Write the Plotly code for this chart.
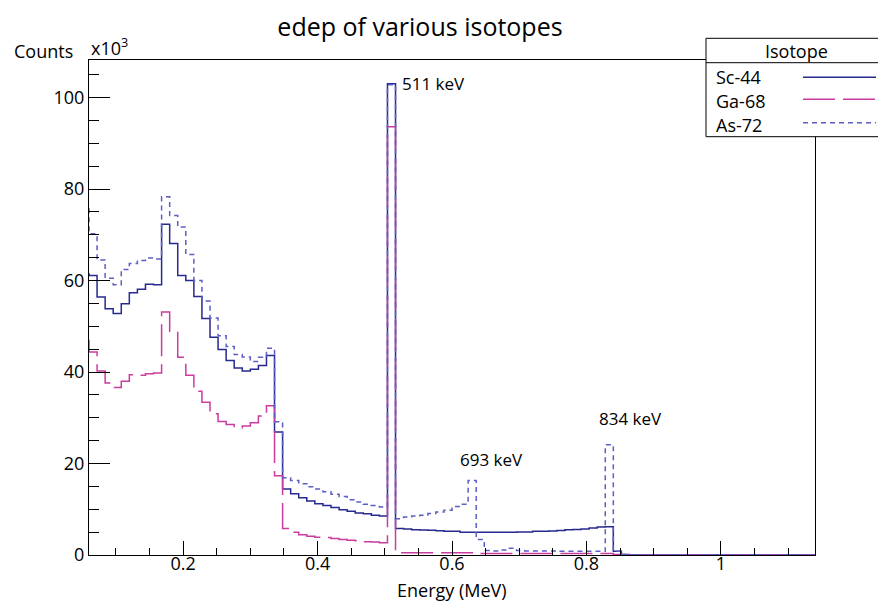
import numpy as np
import plotly.graph_objects as go

# ---------------- data (counts in units of 10^3 per bin) ----------------
bin_lo = 0.06
bin_w = 0.012
n_bins = 90

isotopes = ["Sc-44", "Ga-68", "As-72"]

# value of the bin just left of the drawn range (only its edge is visible)
sc44_prev = 61.5
ga68_prev = 46.9
as72_prev = 76.0

sc44_counts = [
    61.1, 56.4, 53.8, 52.8, 54.9, 57.3, 58.1, 59.2, 59.1, 72.3,
    68.1, 61.1, 60.0, 56.5, 51.7, 47.6, 44.9, 42.5, 40.9, 40.2,
    40.6, 41.4, 43.6, 26.9, 14.4, 13.4, 12.5, 11.8, 11.2, 10.8,
    10.4, 9.9, 9.55, 9.2, 9.0, 8.7, 8.5, 103.0, 5.8, 5.7,
    5.5, 5.45, 5.4, 5.3, 5.2, 5.2, 5.0, 5.0, 4.95, 4.95,
    5.0, 5.0, 5.0, 5.05, 5.05, 5.2, 5.2, 5.25, 5.35, 5.5,
    5.6, 5.7, 5.9, 6.1, 6.15, 0.8, 0.1, 0, 0, 0,
    0, 0, 0, 0, 0, 0, 0, 0, 0, 0,
    0, 0, 0, 0, 0, 0, 0, 0, 0, 0,
]

ga68_counts = [
    44.4, 40.2, 37.6, 36.6, 38.0, 39.4, 39.3, 39.6, 39.8, 53.1,
    48.9, 43.2, 39.3, 35.8, 33.4, 30.9, 29.2, 28.5, 27.8, 28.2,
    28.9, 30.4, 32.6, 17.3, 5.8, 5.0, 4.4, 4.1, 3.9, 3.8,
    3.6, 3.4, 3.2, 3.1, 2.9, 2.85, 2.7, 93.6, 0.5, 0.5,
    0.5, 0.5, 0.5, 0.5, 0.5, 0.5, 0.5, 0.5, 0.35, 0.35,
    0.35, 0.35, 0.35, 0.35, 0.35, 0.35, 0.35, 0.35, 0.35, 0.35,
    0.35, 0.35, 0.35, 0.35, 0.35, 0.1, 0, 0, 0, 0,
    0, 0, 0, 0, 0, 0, 0, 0, 0, 0,
    0, 0, 0, 0, 0, 0, 0, 0, 0, 0,
]

as72_counts = [
    70.2, 64.5, 60.5, 59.1, 62.4, 63.7, 64.4, 64.9, 64.7, 78.3,
    74.2, 71.7, 65.7, 60.0, 55.5, 51.8, 47.9, 45.6, 43.8, 43.3,
    42.3, 43.2, 45.2, 29.1, 16.9, 16.3, 15.6, 14.9, 14.4, 13.8,
    13.3, 12.8, 12.1, 11.6, 11.1, 10.8, 10.5, 102.8, 7.95, 8.3,
    8.5, 8.7, 9.05, 9.4, 9.8, 10.6, 11.1, 16.3, 3.4, 1.0,
    0.9, 1.1, 1.5, 1.0, 0.9, 0.9, 0.9, 0.9, 0.8, 0.8,
    0.8, 0.8, 0.8, 0.8, 24.1, 0.8, 0.1, 0, 0, 0,
    0, 0, 0, 0, 0, 0, 0, 0, 0, 0,
    0, 0, 0, 0, 0, 0, 0, 0, 0, 0,
]

peak_labels = ["511 keV", "693 keV", "834 keV"]
peak_label_x = [0.5225, 0.6095, 0.8153]
peak_label_y = [103.0, 20.9, 29.8]

x_tick_vals = [0.2, 0.4, 0.6, 0.8, 1.0]
x_tick_text = ["0.2", "0.4", "0.6", "0.8", "1"]
y_tick_vals = [0, 20, 40, 60, 80, 100]
y_tick_text = ["0", "20", "40", "60", "80", "100"]

# ---------------- styles ----------------
colors = {"Sc-44": "#26298f", "Ga-68": "#cc3b9f", "As-72": "#5a5ec6"}
dashes = {"Sc-44": "solid", "Ga-68": "32px,8px", "As-72": "5px,4px"}
FONT = "Open Sans, Noto Sans, DejaVu Sans, sans-serif"

x_min = bin_lo
x_max = bin_lo + n_bins * bin_w
edges = bin_lo + bin_w * np.arange(-1, n_bins + 1)  # includes the bin before range


def step_xy(prev, counts):
    vals = [prev] + list(counts)
    xs = list(edges[:-1]) + [edges[-1]]
    ys = vals + [vals[-1]]
    return xs, ys


fig = go.Figure()
series = {"Sc-44": (sc44_prev, sc44_counts),
          "Ga-68": (ga68_prev, ga68_counts),
          "As-72": (as72_prev, as72_counts)}
for name in ["Sc-44", "Ga-68", "As-72"]:
    prev, cnt = series[name]
    xs, ys = step_xy(prev, cnt)
    fig.add_trace(go.Scatter(
        x=xs, y=ys, mode="lines", name=name,
        line=dict(shape="hv", color=colors[name], width=1.5, dash=dashes[name]),
        showlegend=False, hoverinfo="skip",
    ))

# layout geometry (pixels)
W, H = 878, 604
ML, MR, MT, MB = 89, 63, 60, 49
PW, PH = W - ML - MR, H - MT - MB


def pxx(px):
    return (px - ML) / PW


def pxy(py):
    return (H - MB - py) / PH


fig.update_layout(
    width=W, height=H,
    margin=dict(l=ML, r=MR, t=MT, b=MB, pad=0),
    paper_bgcolor="white", plot_bgcolor="white",
    font=dict(family=FONT, size=18, color="black"),
    title=dict(text="edep of various isotopes", x=420 / W, xanchor="center",
               y=1 - 27 / H, yanchor="middle",
               font=dict(family=FONT, size=25, color="black")),
    showlegend=False,
)

fig.update_xaxes(
    range=[x_min, x_max], showgrid=False, zeroline=False,
    showline=True, linecolor="black", linewidth=1, mirror=True,
    ticks="inside", ticklen=14, tickwidth=1, tickcolor="black",
    tickvals=x_tick_vals, ticktext=x_tick_text,
    ticklabelstandoff=-8,
    minor=dict(ticks="inside", ticklen=7, tickwidth=1, tickcolor="black",
               dtick=0.05, tick0=0, showgrid=False),
    tickfont=dict(size=18, family=FONT),
)
fig.update_yaxes(
    range=[0, 108.2], showgrid=False, zeroline=False,
    showline=True, linecolor="black", linewidth=1, mirror=True,
    ticks="inside", ticklen=21, tickwidth=1, tickcolor="black",
    tickvals=y_tick_vals, ticktext=y_tick_text,
    minor=dict(ticks="inside", ticklen=10, tickwidth=1, tickcolor="black",
               dtick=5, tick0=0, showgrid=False),
    tickfont=dict(size=18, family=FONT),
)

annotations = []
# axis titles
annotations.append(dict(text="Counts", xref="paper", yref="paper",
                        x=pxx(12), y=pxy(51), xanchor="left", yanchor="middle",
                        showarrow=False, font=dict(size=18)))
annotations.append(dict(text="x10<sup>3</sup>", xref="paper", yref="paper",
                        x=pxx(89), y=pxy(47), xanchor="left", yanchor="middle",
                        showarrow=False, font=dict(size=18)))
annotations.append(dict(text="Energy (MeV)", xref="paper", yref="paper",
                        x=0.5, y=pxy(590), xanchor="center", yanchor="middle",
                        showarrow=False, font=dict(size=18)))
# peak labels
for t, xv, yv in zip(peak_labels, peak_label_x, peak_label_y):
    annotations.append(dict(text=t, x=xv, y=yv, xref="x", yref="y",
                            xanchor="left", yanchor="middle", showarrow=False,
                            font=dict(size=17)))

# legend (drawn box like ROOT TLegend)
leg_left, leg_right, leg_top, leg_bot, leg_sep = 706, 900, 38.3, 136.7, 62.7
shapes = [
    dict(type="rect", xref="paper", yref="paper", layer="above",
         x0=pxx(leg_left), x1=pxx(leg_right), y0=pxy(leg_bot), y1=pxy(leg_top),
         line=dict(color="black", width=1), fillcolor="white"),
    dict(type="line", xref="paper", yref="paper", layer="above",
         x0=pxx(leg_left), x1=pxx(leg_right), y0=pxy(leg_sep), y1=pxy(leg_sep),
         line=dict(color="black", width=1)),
]
annotations.append(dict(text="Isotope", xref="paper", yref="paper",
                        x=pxx(796.7), y=pxy(51.2), xanchor="center", yanchor="middle",
                        showarrow=False, font=dict(size=18)))
row_text_y = [77.0, 100.7, 125.0]
row_line_y = [77.3, 99.3, 122.7]
for name, ty, ly in zip(isotopes, row_text_y, row_line_y):
    annotations.append(dict(text=name, xref="paper", yref="paper",
                            x=pxx(714), y=pxy(ty), xanchor="left", yanchor="middle",
                            showarrow=False, font=dict(size=18)))
    shapes.append(dict(type="line", xref="paper", yref="paper", layer="above",
                       x0=pxx(803), x1=pxx(876), y0=pxy(ly), y1=pxy(ly),
                       line=dict(color=colors[name], width=1.5, dash=dashes[name])))

fig.update_layout(annotations=annotations, shapes=shapes)

fig.write_html("out.html")
